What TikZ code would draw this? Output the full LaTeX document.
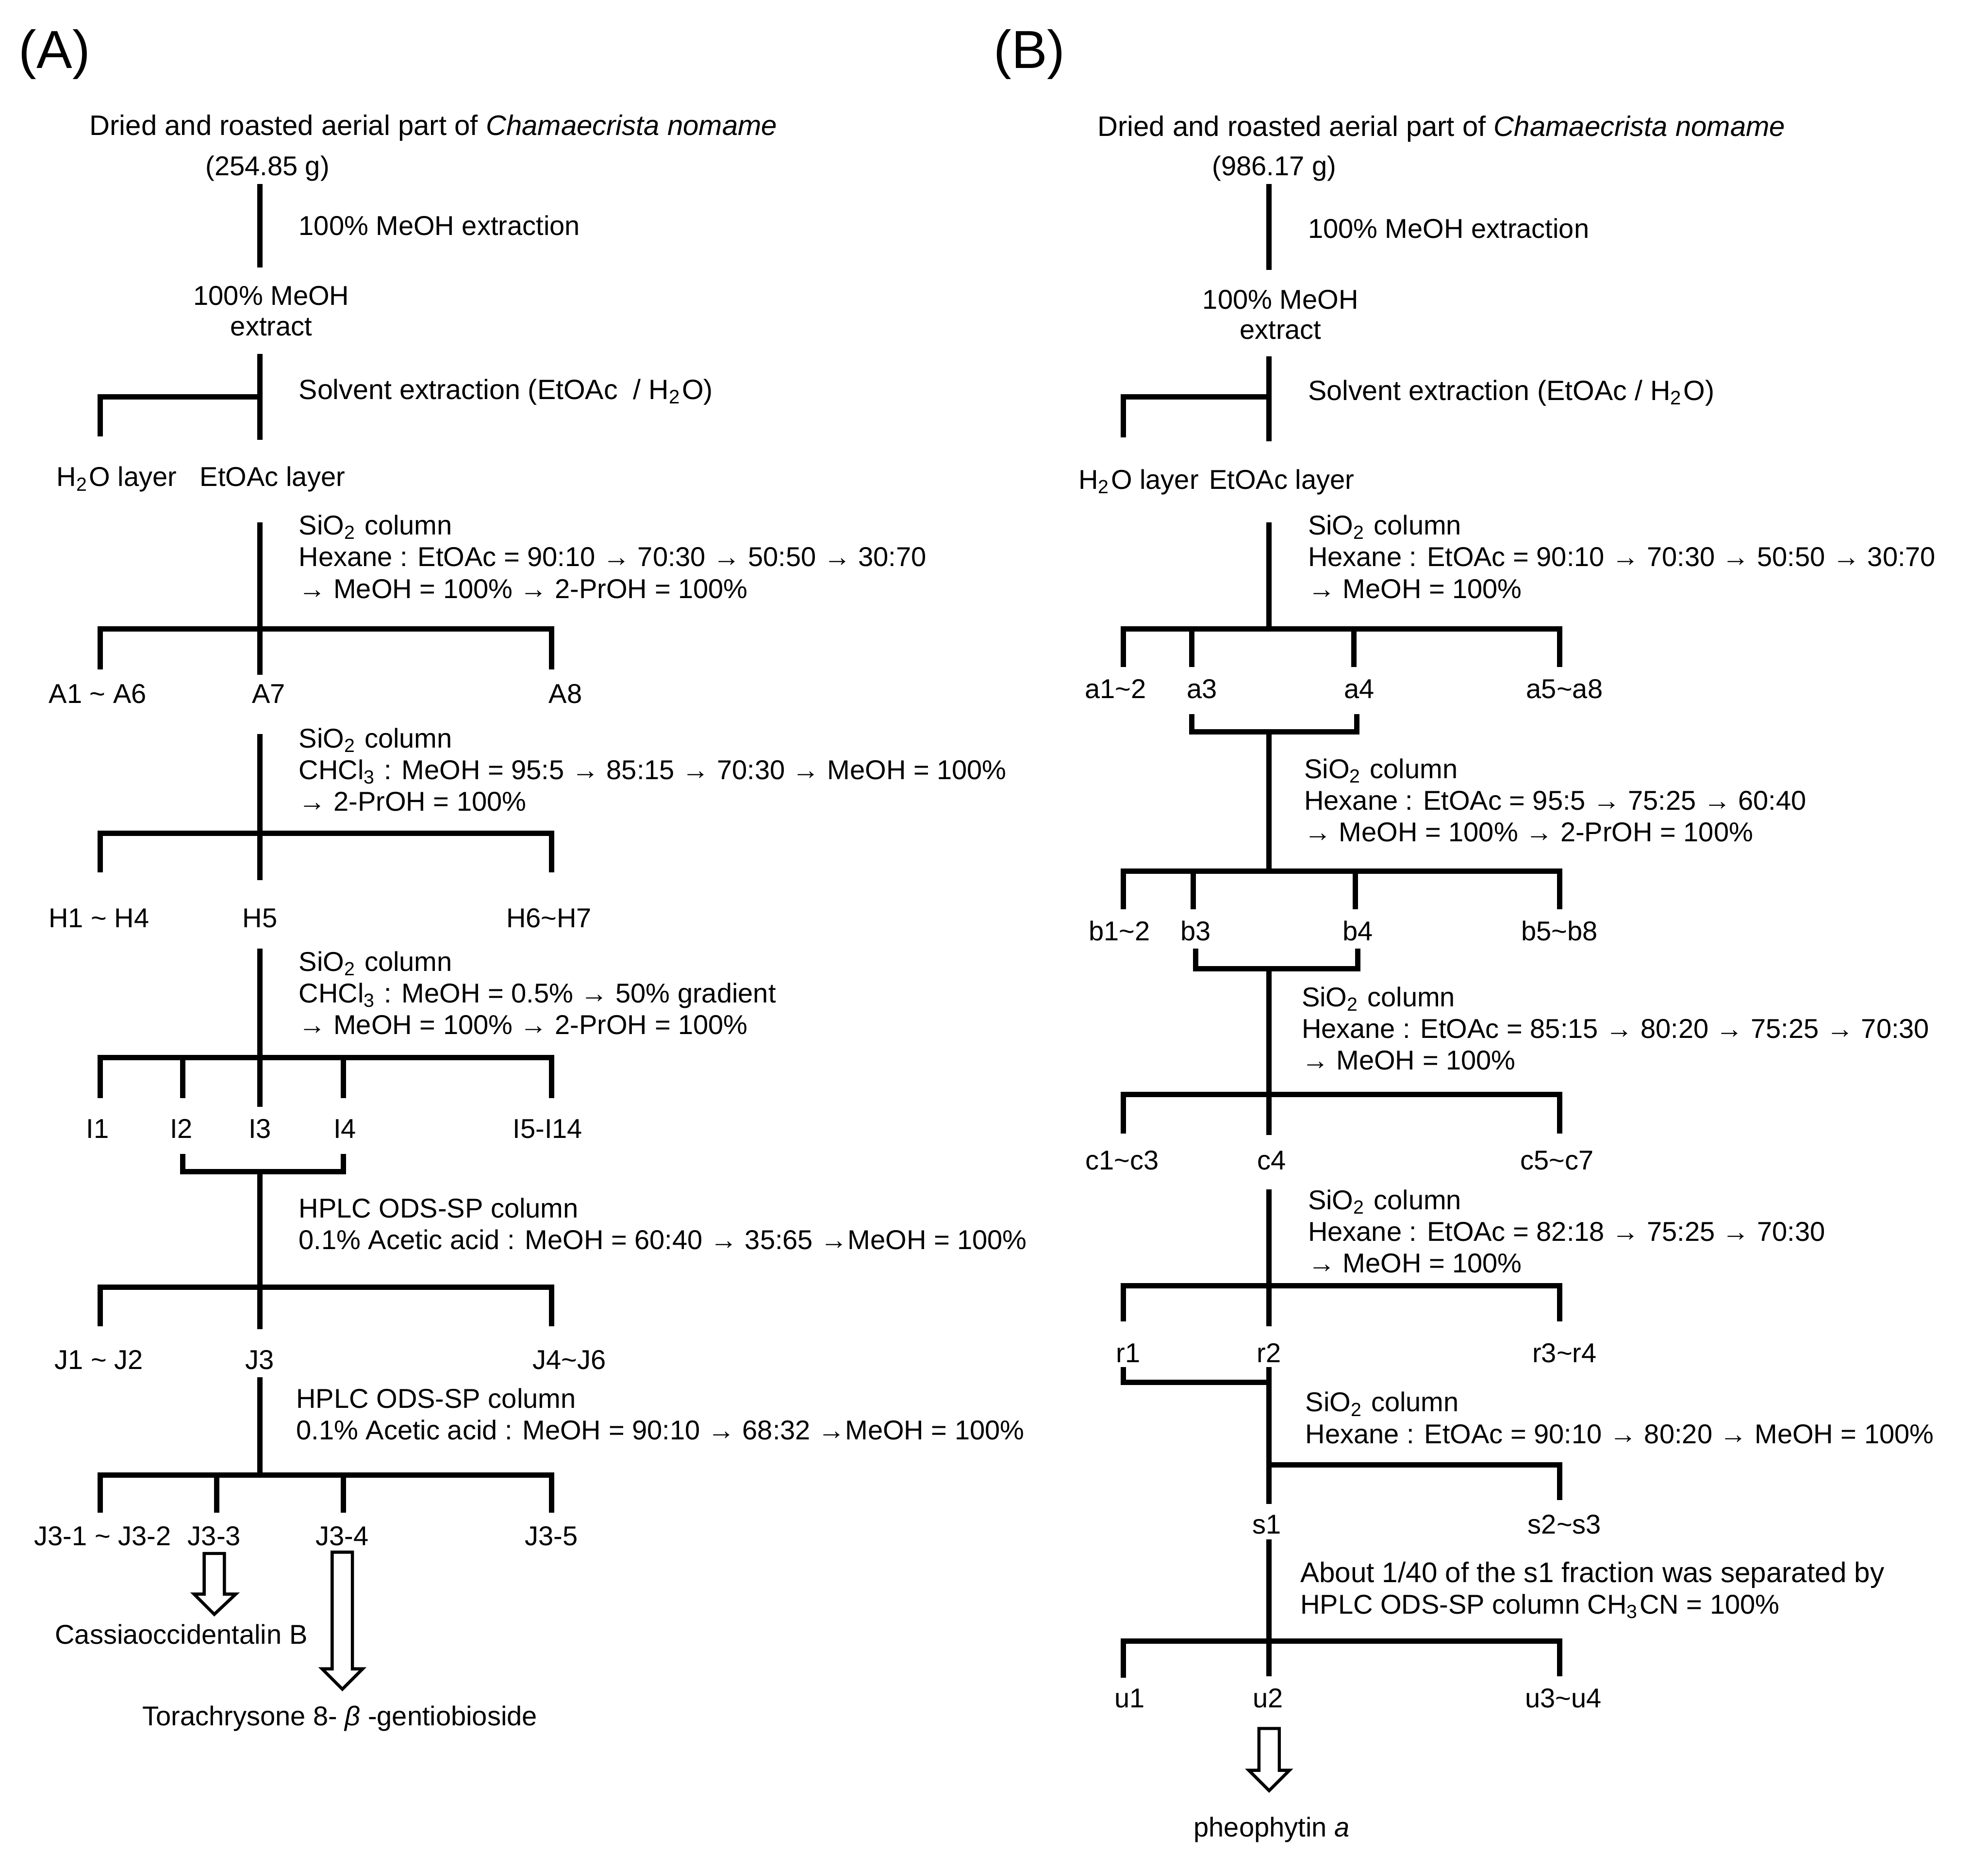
\documentclass[tikz,border=0pt]{standalone}
\usepackage{fontspec}
\setmainfont{Liberation Sans}
\usepackage{tikz}

\tikzset{
	trunk/.style={line width=1.2pt},
	bar/.style={line width=1.2pt, line cap=rect},
	hollow/.style={line width=0.7pt, fill=white, line join=miter},
	frac/.style={font=\fontsize{6.1}{7.1}\selectfont, inner sep=0pt, text height=4.3pt, text depth=0pt},
	fracleft/.style={frac, anchor=west},
	plant/.style={fracleft, font=\fontsize{6.32}{7.1}\selectfont},
	note/.style={font=\fontsize{6.1}{7.1}\selectfont, inner sep=0pt, anchor=west, align=left},
	notewide/.style={note, font=\fontsize{6.25}{7.1}\selectfont},
	panel/.style={font=\fontsize{12}{14}\selectfont, inner sep=0pt}
}

\begin{document}
\begin{tikzpicture}[x=0.01cm, y=-0.01cm]
	\useasboundingbox (0,0) rectangle (1568,1461);

	% panel A
	\node[panel] (panelA) at (43,43) {(A)};
	\node[plant] (plantA) at (70,99) {Dried and roasted aerial part of \textit{Chamaecrista nomame}};
	\node[frac] (massA) at (211,131) {(254.85 g)};
	\node[note] (noteA0) at (235,178) {100\% MeOH extraction};
	\node[frac] (meohA) at (214,233) {100\% MeOH};
	\node[frac] (extractA) at (214,257) {extract};
	\node[notewide] (noteA1) at (235,309) {Solvent extraction (EtOAc~~/ H\textsubscript{2}O)};
	\node[fracleft] (waterA) at (44,376) {H\textsubscript{2}O layer};
	\node[fracleft] (etoacA) at (157,376) {EtOAc layer};
	\node[note] (noteA2) at (235,439) {SiO\textsubscript{2} column\\Hexane : EtOAc = 90:10 → 70:30 → 50:50 → 30:70\\→ MeOH = 100\% → 2-PrOH = 100\%};
	\node[frac] (fA1) at (77,547) {A1 \textasciitilde{} A6};
	\node[frac] (fA7) at (212,547) {A7};
	\node[frac] (fA8) at (446,547) {A8};
	\node[note] (noteA3) at (235,607) {SiO\textsubscript{2} column\\CHCl\textsubscript{3} : MeOH = 95:5 → 85:15 → 70:30 → MeOH = 100\%\\→ 2-PrOH = 100\%};
	\node[frac] (fH1) at (78,724) {H1 \textasciitilde{} H4};
	\node[frac] (fH5) at (205,724) {H5};
	\node[frac] (fH6) at (433,724) {H6\textasciitilde{}H7};
	\node[note] (noteA4) at (235,783) {SiO\textsubscript{2} column\\CHCl\textsubscript{3} : MeOH = 0.5\% → 50\% gradient\\→ MeOH = 100\% → 2-PrOH = 100\%};
	\node[frac] (fI1) at (77,890) {I1};
	\node[frac] (fI2) at (143,890) {I2};
	\node[frac] (fI3) at (205,890) {I3};
	\node[frac] (fI4) at (272,890) {I4};
	\node[frac] (fI5) at (432,890) {I5-I14};
	\node[note] (noteA5) at (235,965) {HPLC ODS-SP column\\0.1\% Acetic acid : MeOH = 60:40 → 35:65 →MeOH = 100\%};
	\node[frac] (fJ1) at (78,1072) {J1 \textasciitilde{} J2};
	\node[frac] (fJ3) at (205,1072) {J3};
	\node[frac] (fJ4) at (449,1072) {J4\textasciitilde{}J6};
	\node[note] (noteA6) at (233,1115) {HPLC ODS-SP column\\0.1\% Acetic acid : MeOH = 90:10 → 68:32 →MeOH = 100\%};
	\node[frac] (fK1) at (81,1211) {J3-1 \textasciitilde{} J3-2};
	\node[frac] (fK3) at (169,1211) {J3-3};
	\node[frac] (fK4) at (270,1211) {J3-4};
	\node[frac] (fK5) at (435,1211) {J3-5};
	\node[frac] (cassia) at (143,1289) {Cassiaoccidentalin B};
	\node[frac] (torach) at (268,1353) {Torachrysone 8- \textit{β} -gentiobioside};

	% panel A coordinates
	\foreach \nm/\px/\py in {
		tA0/205/145, eA0/205/211, tA1/205/279, eA1/205/347, bA1/205/313, lA1/79/313, dA1/79/344,
		tA2/205/412, eA2/205/532, bA2/205/496, lA2/79/496, dA2/79/528, rA2/435/496, sA2/435/528,
		tA3/205/579, eA3/205/694, lA3/79/657, dA3/79/688, rA3/435/657, sA3/435/688,
		tA4/205/748, eA4/205/873, lA4/79/834, dA4/79/866, rA4/435/834, sA4/435/866,
		mA4/144/834, nA4/144/866, oA4/271/834, pA4/271/866,
		qA4/144/910, uA4/144/924, vA4/271/910, wA4/271/924, tA5/205/924, eA5/205/1048,
		lA5/79/1015, dA5/79/1046, rA5/435/1015, sA5/435/1046,
		tA6/205/1086, eA6/205/1163, lA6/79/1163, dA6/79/1193, rA6/435/1163, sA6/435/1193,
		mA6/171/1163, nA6/171/1193, oA6/271/1163, pA6/271/1193}
		\coordinate (\nm) at (\px,\py);

	\foreach \a/\b in {tA0/eA0, tA1/eA1, lA1/dA1, tA2/eA2, lA2/dA2, rA2/sA2, tA3/eA3, lA3/dA3, rA3/sA3,
		tA4/eA4, lA4/dA4, rA4/sA4, mA4/nA4, oA4/pA4, qA4/uA4, vA4/wA4, tA5/eA5, lA5/dA5, rA5/sA5,
		tA6/eA6, lA6/dA6, rA6/sA6, mA6/nA6, oA6/pA6}
		\draw[trunk] (\a) -- (\b);
	\draw[bar] (lA1) -- (bA1);
	\draw[bar] (lA2) -- (rA2);
	\draw[bar] (lA3) -- (rA3);
	\draw[bar] (lA4) -- (rA4);
	\draw[bar] (uA4) -- (wA4);
	\draw[bar] (lA5) -- (rA5);
	\draw[bar] (lA6) -- (rA6);

	\draw[hollow] (161,1225) -- (177,1225) -- (177,1257) -- (186,1257) -- (169,1273) -- (153,1257) -- (161,1257) -- cycle;
	\draw[hollow] (262,1224) -- (278,1224) -- (278,1316) -- (286,1316) -- (270,1332) -- (254,1316) -- (262,1316) -- cycle;

	% panel B
	\node[panel] (panelB) at (812,43) {(B)};
	\node[plant] (plantB) at (865,100) {Dried and roasted aerial part of \textit{Chamaecrista nomame}};
	\node[frac] (massB) at (1005,131) {(986.17 g)};
	\node[note] (noteB0) at (1031,180) {100\% MeOH extraction};
	\node[frac] (meohB) at (1010,236) {100\% MeOH};
	\node[frac] (extractB) at (1010,260) {extract};
	\node[notewide] (noteB1) at (1031,310) {Solvent extraction (EtOAc / H\textsubscript{2}O)};
	\node[fracleft] (waterB) at (850,378) {H\textsubscript{2}O layer};
	\node[fracleft] (etoacB) at (953,378) {EtOAc layer};
	\node[note] (noteB2) at (1031,439) {SiO\textsubscript{2} column\\Hexane : EtOAc = 90:10 → 70:30 → 50:50 → 30:70\\→ MeOH = 100\%};
	\node[frac] (fa1) at (880,543) {a1\textasciitilde{}2};
	\node[frac] (fa3) at (948,543) {a3};
	\node[frac] (fa4) at (1072,543) {a4};
	\node[frac] (fa5) at (1234,543) {a5\textasciitilde{}a8};
	\node[note] (noteB3) at (1028,631) {SiO\textsubscript{2} column\\Hexane : EtOAc = 95:5 → 75:25 → 60:40\\→ MeOH = 100\% → 2-PrOH = 100\%};
	\node[frac] (fb1) at (883,734) {b1\textasciitilde{}2};
	\node[frac] (fb3) at (943,734) {b3};
	\node[frac] (fb4) at (1071,734) {b4};
	\node[frac] (fb5) at (1230,734) {b5\textasciitilde{}b8};
	\node[note] (noteB4) at (1026,811) {SiO\textsubscript{2} column\\Hexane : EtOAc = 85:15 → 80:20 → 75:25 → 70:30\\→ MeOH = 100\%};
	\node[frac] (fc1) at (885,915) {c1\textasciitilde{}c3};
	\node[frac] (fc4) at (1003,915) {c4};
	\node[frac] (fc5) at (1228,915) {c5\textasciitilde{}c7};
	\node[note] (noteB5) at (1031,971) {SiO\textsubscript{2} column\\Hexane : EtOAc = 82:18 → 75:25 → 70:30\\→ MeOH = 100\%};
	\node[frac] (fr1) at (890,1067) {r1};
	\node[frac] (fr2) at (1001,1067) {r2};
	\node[frac] (fr3) at (1234,1067) {r3\textasciitilde{}r4};
	\node[note] (noteB6) at (1029,1118) {SiO\textsubscript{2} column\\Hexane : EtOAc = 90:10 → 80:20 → MeOH = 100\%};
	\node[frac] (fs1) at (999,1202) {s1};
	\node[frac] (fs2) at (1234,1202) {s2\textasciitilde{}s3};
	\node[note] (noteB7) at (1025,1254) {{\fontsize{6.35}{7.1}\selectfont About 1/40 of the s1 fraction was separated by}\\HPLC ODS-SP column CH\textsubscript{3}CN = 100\%};
	\node[frac] (fu1) at (891,1339) {u1};
	\node[frac] (fu2) at (1000,1339) {u2};
	\node[frac] (fu3) at (1233,1339) {u3\textasciitilde{}u4};
	\node[frac] (pheo) at (1003,1441) {pheophytin \textit{a}};

	% panel B coordinates
	\foreach \nm/\px/\py in {
		tB0/1001/145, eB0/1001/213, tB1/1001/281, eB1/1001/348, bB1/1001/313, lB1/886/313, dB1/886/345,
		tB2/1001/412, eB2/1001/496, lB2/886/496, dB2/886/526, rB2/1230/496, sB2/1230/526,
		mB2/940/496, nB2/940/526, oB2/1068/496, pB2/1068/526,
		qB2/940/563, uB2/940/577, vB2/1070/563, wB2/1070/577, tB3/1001/577, eB3/1001/687,
		lB3/886/687, dB3/886/717, rB3/1230/687, sB3/1230/717,
		mB3/941/687, nB3/941/717, oB3/1069/687, pB3/1069/717,
		qB3/943/748, uB3/943/764, vB3/1071/748, wB3/1071/764, tB4/1001/764, eB4/1001/895,
		lB4/886/863, dB4/886/894, rB4/1230/863, sB4/1230/894,
		tB5/1001/938, eB5/1001/1046, lB5/886/1014, dB5/886/1042, rB5/1230/1014, sB5/1230/1042,
		qB6/886/1078, uB6/886/1090, tB6/1001/1078, eB6/1001/1186, bB6/1001/1090,
		cB6/1001/1155, rB6/1230/1155, sB6/1230/1183,
		tB7/1001/1214, eB7/1001/1322, lB7/886/1294, dB7/886/1323, rB7/1230/1294, sB7/1230/1322}
		\coordinate (\nm) at (\px,\py);

	\foreach \a/\b in {tB0/eB0, tB1/eB1, lB1/dB1, tB2/eB2, lB2/dB2, rB2/sB2, mB2/nB2, oB2/pB2, qB2/uB2, vB2/wB2,
		tB3/eB3, lB3/dB3, rB3/sB3, mB3/nB3, oB3/pB3, qB3/uB3, vB3/wB3, tB4/eB4, lB4/dB4, rB4/sB4,
		tB5/eB5, lB5/dB5, rB5/sB5, qB6/uB6, tB6/eB6, rB6/sB6, tB7/eB7, lB7/dB7, rB7/sB7}
		\draw[trunk] (\a) -- (\b);
	\draw[bar] (lB1) -- (bB1);
	\draw[bar] (lB2) -- (rB2);
	\draw[bar] (uB2) -- (wB2);
	\draw[bar] (lB3) -- (rB3);
	\draw[bar] (uB3) -- (wB3);
	\draw[bar] (lB4) -- (rB4);
	\draw[bar] (lB5) -- (rB5);
	\draw[bar] (uB6) -- (bB6);
	\draw[bar] (cB6) -- (rB6);
	\draw[bar] (lB7) -- (rB7);

	\draw[hollow] (993,1363) -- (1009,1363) -- (1009,1396) -- (1017,1396) -- (1001,1412) -- (985,1396) -- (993,1396) -- cycle;

\end{tikzpicture}
\end{document}
